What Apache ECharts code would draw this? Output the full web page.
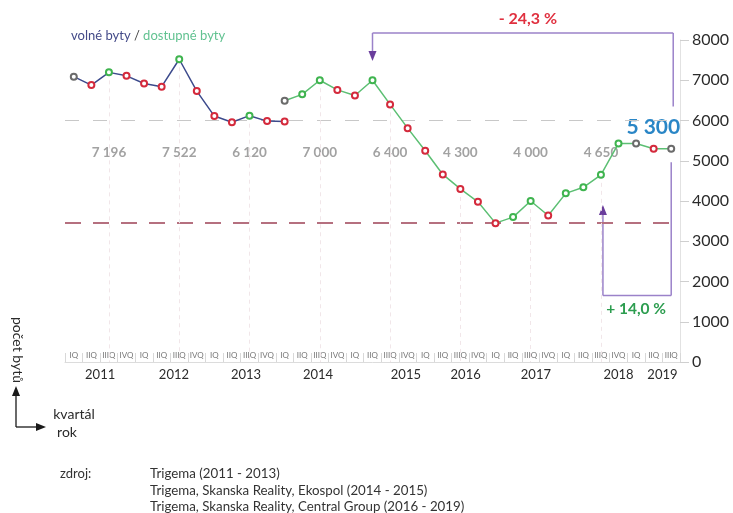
<!DOCTYPE html>
<html>
<head>
<meta charset="utf-8">
<script src="https://cdn.jsdelivr.net/npm/echarts@6/dist/echarts.min.js"></script>
<style>
  html, body { margin: 0; padding: 0; background: #fff; }
  #chart { width: 733px; height: 513px; }
</style>
</head>
<body>
<div id="chart"></div>
<script>
// Quarter labels 2011 IQ .. 2019 IIIQ
const quarterLabels = [
  'IQ','IIQ','IIIQ','IVQ', 'IQ','IIQ','IIIQ','IVQ', 'IQ','IIQ','IIIQ','IVQ',
  'IQ','IIQ','IIIQ','IVQ', 'IQ','IIQ','IIIQ','IVQ', 'IQ','IIQ','IIIQ','IVQ',
  'IQ','IIQ','IIIQ','IVQ', 'IQ','IIQ','IIIQ','IVQ', 'IQ','IIQ','IIIQ'
];
const years = ['2011','2012','2013','2014','2015','2016','2017','2018','2019'];
// where each year caption sits, in quarter-index units
const yearPos = [1.5, 5.7, 9.8, 13.9, 18.9, 22.3, 26.3, 31.0, 33.5];

// volné byty (2011 IQ – 2014 IQ)
const volneByty = [7090, 6880, 7196, 7110, 6920, 6840, 7522, 6730, 6110, 5955, 6120, 5985, 5975,
  null, null, null, null, null, null, null, null, null, null, null, null, null, null, null, null,
  null, null, null, null, null, null];
// dostupné byty (2014 IQ – 2019 IIIQ)
const dostupneByty = [null, null, null, null, null, null, null, null, null, null, null, null,
  6490, 6650, 7000, 6760, 6620, 7000, 6400, 5810, 5250, 4660, 4300, 3980, 3450, 3600, 4000,
  3640, 4190, 4340, 4650, 5430, 5430, 5300, 5300];

// yearly figures shown under the line (at IIIQ of each year)
const yearlyIdx = [2, 6, 10, 14, 18, 22, 26, 30];
const yearlyValue = [7196, 7522, 6120, 7000, 6400, 4300, 4000, 4650];

const refHigh = 6000;     // grey dashed reference
const refLow = 3450;      // minimum, rose dashed reference
const peakIdx = 17, peakVal = 7000;       // - 24,3 %
const troughIdx = 30, troughVal = 4650;   // + 14,0 %
const lastIdx = 34, lastVal = 5300;
const dropText = '- 24,3 %';
const riseText = '+ 14,0 %';

const FONT = 'Lato, "Open Sans", sans-serif';
const C_UP = '#3fb44f', C_DOWN = '#d42a3c', C_SAME = '#6b6b6b';
const fmt = v => String(v).replace(/\B(?=(\d{3})+(?!\d))/g, ' ');

function withMarkers(arr) {
  let prev = null;
  return arr.map(v => {
    if (v == null) return null;
    let c = C_SAME;
    if (prev != null) c = v > prev ? C_UP : (v < prev ? C_DOWN : C_SAME);
    prev = v;
    return { value: v, itemStyle: { borderColor: c } };
  });
}

const chart = echarts.init(document.getElementById('chart'));

const lineBase = {
  type: 'line',
  symbol: 'circle',
  symbolSize: 6,
  showAllSymbol: true,
  connectNulls: false,
  itemStyle: { color: '#fff', borderWidth: 2 },
  emphasis: { disabled: true },
  z: 5
};

chart.setOption({
  animation: false,
  textStyle: { fontFamily: FONT },
  title: {
    left: 66, top: 24,
    text: '{a|volné byty}{b| / }{c|dostupné byty}',
    textStyle: {
      fontWeight: 'normal',
      rich: {
        a: { color: '#434a88', fontSize: 13, fontWeight: 'normal', fontFamily: FONT },
        b: { color: '#444', fontSize: 13, fontWeight: 'normal', fontFamily: FONT },
        c: { color: '#62c291', fontSize: 13, fontWeight: 'normal', fontFamily: FONT }
      }
    }
  },
  grid: { left: 65, right: 53, top: 40, bottom: 151 },
  xAxis: {
    type: 'category',
    data: quarterLabels,
    boundaryGap: true,
    axisLine: { show: true, lineStyle: { color: '#dcdcdc' } },
    axisTick: { show: true, inside: true, length: 9, interval: 0, lineStyle: { color: '#d8d8d8' } },
    axisLabel: { inside: true, interval: 0, fontSize: 8, color: '#777', margin: 3, fontFamily: FONT },
    splitLine: { show: false }
  },
  yAxis: {
    type: 'value',
    position: 'right',
    min: 0, max: 8000, interval: 1000,
    axisLine: { show: true, lineStyle: { color: '#e2e2e2' } },
    axisTick: { show: true, length: 9, lineStyle: { color: '#cfcfcf' } },
    axisLabel: { color: '#2b2b2b', fontSize: 16, margin: 12, fontFamily: FONT, formatter: v => String(v) },
    splitLine: { show: false }
  },
  series: [
    Object.assign({}, lineBase, {
      name: 'volné byty',
      data: withMarkers(volneByty),
      lineStyle: { color: '#3c4a8c', width: 1.5 },
      markLine: {
        silent: true, symbol: 'none', label: { show: false },
        lineStyle: { color: '#c8c8c8', type: [14, 14], width: 1 },
        data: [{ yAxis: refHigh }]
      }
    }),
    Object.assign({}, lineBase, {
      name: 'dostupné byty',
      data: withMarkers(dostupneByty),
      lineStyle: { color: '#5cbf73', width: 1.5 },
      markLine: {
        silent: true, symbol: 'none', label: { show: false },
        lineStyle: { color: '#b5707f', type: [16, 12], width: 2 },
        data: [{ yAxis: refLow }]
      }
    }),
    {
      // faint dashed drop lines at the IIIQ quarters
      type: 'line', data: [], silent: true,
      markLine: {
        silent: true, symbol: 'none', label: { show: false },
        lineStyle: { color: '#f1e6e9', type: [4, 4], width: 1 },
        data: yearlyIdx.map((i, k) => [
          { coord: [i, yearlyValue[k]] },
          { coord: [i, 0] }
        ])
      },
      z: 1
    }
  ]
});

// annotations placed through the axes
const P = (i, v) => chart.convertToPixel({ xAxisIndex: 0, yAxisIndex: 0 }, [i, v]);
const g = [];
const annLine = '#9b82c9', annHead = '#6a3d9c';

function seg(x1, y1, x2, y2, color, w) {
  g.push({ type: 'line', shape: { x1, y1, x2, y2 }, style: { stroke: color, lineWidth: w }, silent: true });
}
function head(x, y, dir, color) {
  const s = 4, h = 10;
  let pts;
  if (dir === 'down') pts = [[x, y], [x - s, y - h], [x + s, y - h]];
  else if (dir === 'up') pts = [[x, y], [x - s, y + h], [x + s, y + h]];
  else pts = [[x, y], [x - h, y - s], [x - h, y + s]];
  g.push({ type: 'polygon', shape: { points: pts }, style: { fill: color }, silent: true });
}
function txt(x, y, text, style, extra) {
  g.push(Object.assign({ type: 'text', x, y, silent: true,
    style: Object.assign({ text, fontFamily: FONT, align: 'center', verticalAlign: 'middle' }, style) }, extra || {}));
}

// yearly figures
yearlyIdx.forEach((i, k) => {
  const p = P(i, 0);
  txt(p[0], 153, fmt(yearlyValue[k]), { fill: '#a2a2a2', fontSize: 13.5, fontWeight: 'bold' });
});

// year captions under the quarter axis
years.forEach((y, k) => {
  const a = P(Math.floor(yearPos[k]), 0), b = P(Math.floor(yearPos[k]) + 1, 0);
  const x = a[0] + (b[0] - a[0]) * (yearPos[k] - Math.floor(yearPos[k]));
  txt(x, 375, y, { fill: '#2b2b2b', fontSize: 13 });
});

// - 24,3 % bracket
const pk = P(peakIdx, peakVal), ls = P(lastIdx, lastVal);
const topY = 33;
seg(pk[0], topY, ls[0] + 2, topY, annLine, 1.5);
seg(pk[0], topY, pk[0], P(peakIdx, 7480)[1] - 8, annLine, 1.5);
head(pk[0], P(peakIdx, 7480)[1], 'down', annHead);
seg(ls[0] + 2, topY, ls[0] + 2, P(lastIdx, 6350)[1], annLine, 1.5);
txt((pk[0] + ls[0]) / 2 + 6, 19, dropText, { fill: '#e0303f', fontSize: 16, fontWeight: 'bold' });

// + 14,0 % bracket
const tr = P(troughIdx, troughVal);
const botY = P(lastIdx, 1650)[1];
seg(ls[0], P(lastIdx, 4960)[1], ls[0], botY, annLine, 1.5);
seg(tr[0] + 2, botY, ls[0], botY, annLine, 1.5);
seg(tr[0] + 2, botY, tr[0] + 2, P(troughIdx, 3900)[1] + 8, annLine, 1.5);
head(tr[0] + 2, P(troughIdx, 3900)[1], 'up', annHead);
txt((tr[0] + ls[0]) / 2, 309, riseText, { fill: '#2c9d4f', fontSize: 15.5, fontWeight: 'bold' });

// current value
txt(P(lastIdx, 0)[0] + 9, 127, fmt(lastVal), { fill: '#2a86c6', fontSize: 21, fontWeight: 'bold', align: 'right' });

// axis key in the lower left
txt(0, 0, 'počet bytů', { fill: '#2b2b2b', fontSize: 14 }, { x: 18, y: 350, rotation: -Math.PI / 2 });
seg(16, 427, 16, 394, '#1a1a1a', 1.3);
head(16, 386, 'up', '#1a1a1a');
seg(16, 427, 38, 427, '#1a1a1a', 1.3);
head(46, 427, 'right', '#1a1a1a');
txt(74, 414, 'kvartál', { fill: '#2b2b2b', fontSize: 14 });
txt(67, 432, 'rok', { fill: '#2b2b2b', fontSize: 14 });

// sources
txt(60, 474, 'zdroj:', { fill: '#333', fontSize: 13, align: 'left' });
['Trigema (2011 - 2013)',
 'Trigema, Skanska Reality, Ekospol (2014 - 2015)',
 'Trigema, Skanska Reality, Central Group (2016 - 2019)'].forEach((s, k) => {
  txt(150, 474 + k * 16.5, s, { fill: '#333', fontSize: 13.3, align: 'left' });
});

chart.setOption({ graphic: g });
</script>
</body>
</html>
